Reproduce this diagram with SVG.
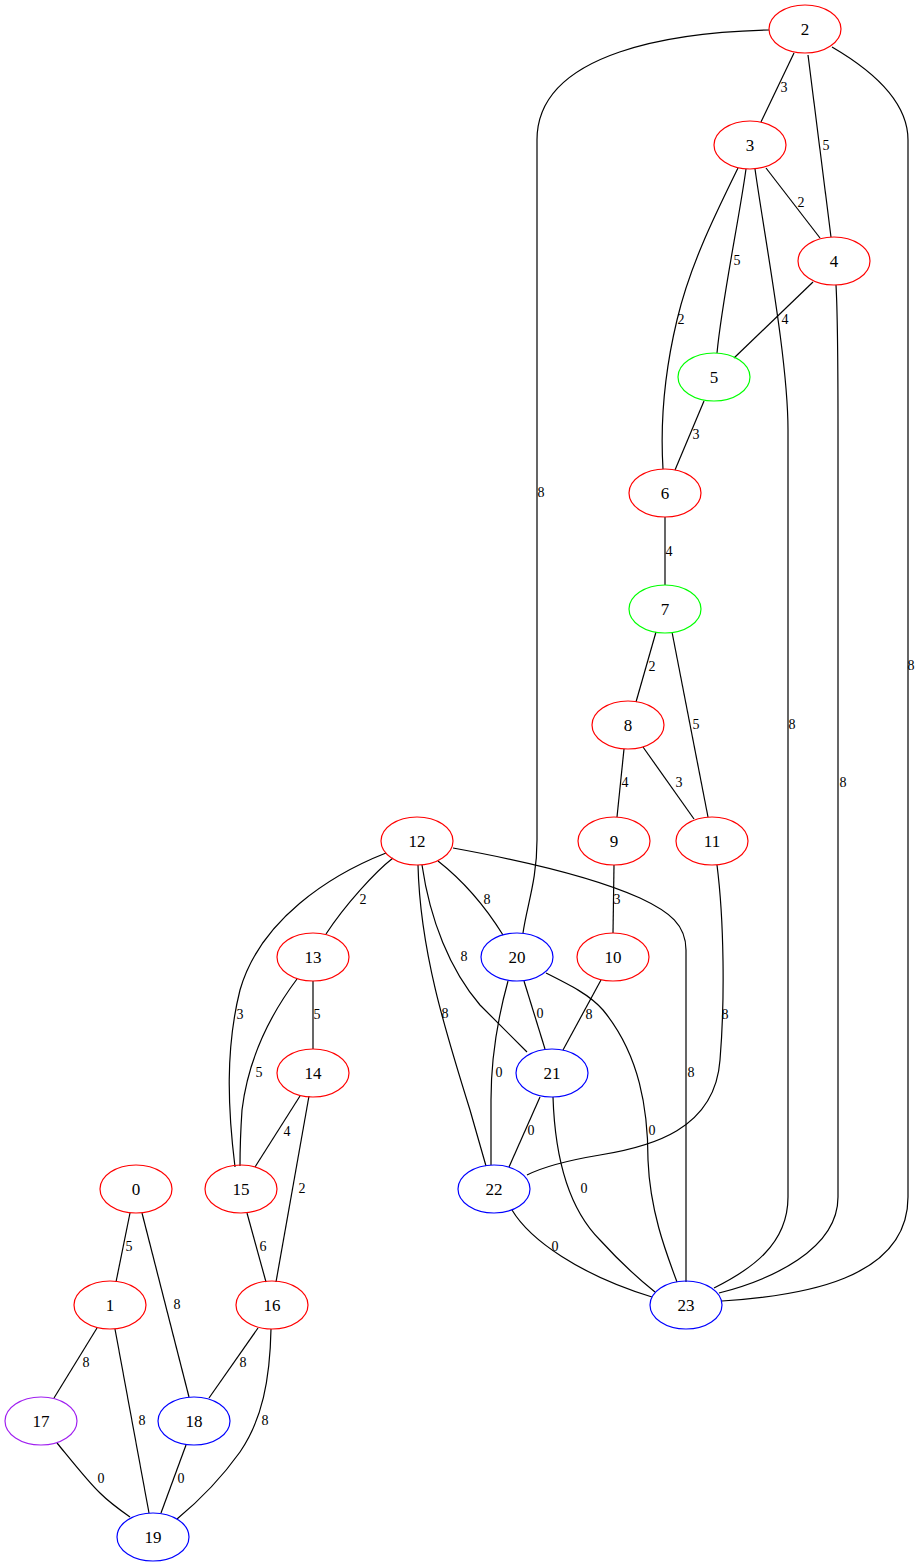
<svg xmlns="http://www.w3.org/2000/svg" width="923" height="1567" viewBox="0 0 923 1567">
<style>
  .bg { fill: #ffffff; }
  .node ellipse { fill: none; stroke-width: 1.2; }
  .node text { font-family: "Liberation Serif", "Times New Roman", serif; font-size: 17px; text-anchor: middle; fill: #000; }
  .red ellipse { stroke: #ff0000; }
  .green ellipse { stroke: #00ff00; }
  .blue ellipse { stroke: #0000ff; }
  .purple ellipse { stroke: #a020f0; }
  #edges path { fill: none; stroke: #000; stroke-width: 1.2; }
  #edges text { font-family: "Liberation Serif", "Times New Roman", serif; font-size: 14px; text-anchor: middle; fill: #000; }
</style>
<rect class="bg" x="0" y="0" width="923" height="1567"/>

<g id="edges">
  <!-- 2 -->
  <path d="M794,53 L761,122"/><text x="784" y="92">3</text>
  <path d="M808,55 L831,237"/><text x="826" y="150">5</text>
  <path d="M769,30 C680,32 537,50 537,140 L537,840 C537,880 527,905 523,933"/><text x="541" y="497">8</text>
  <path d="M832,47 C880,75 908,105 908,140 L908,1197 C908,1280 800,1296 722,1301"/><text x="911" y="670">8</text>
  <!-- 3 -->
  <path d="M766,168 L820,238"/><text x="801" y="207">2</text>
  <path d="M746,169 C739,220 722,300 717,353"/><text x="737" y="265">5</text>
  <path d="M738,168 C715,215 690,265 677,320 C665,370 660,420 663,469"/><text x="681" y="324">2</text>
  <path d="M755,169 C765,240 788,360 788,430 L788,1197 C788,1245 750,1270 714,1288"/><text x="792" y="729">8</text>
  <!-- 4 -->
  <path d="M813,282 L734,358"/><text x="785" y="324">4</text>
  <path d="M836,285 C838,320 838,380 838,430 L838,1197 C838,1250 770,1280 719,1293"/><text x="843" y="787">8</text>
  <!-- 5, 6, 7 -->
  <path d="M704,401 L675,470"/><text x="696" y="439">3</text>
  <path d="M665,517 L665,585"/><text x="669" y="556">4</text>
  <path d="M656,632 L636,702"/><text x="652" y="671">2</text>
  <path d="M672,632 L708,817"/><text x="696" y="729">5</text>
  <!-- 8, 9, 10, 11 -->
  <path d="M624,749 L617,817"/><text x="625" y="787">4</text>
  <path d="M643,747 L694,819"/><text x="679" y="787">3</text>
  <path d="M614,865 L613,933"/><text x="617" y="904">3</text>
  <path d="M601,980 L563,1050"/><text x="589" y="1019">8</text>
  <path d="M717,865 C724,920 725,1000 720,1060 C715,1130 650,1147 600,1155 C570,1160 545,1166 527,1175"/><text x="725" y="1019">8</text>
  <!-- 12 -->
  <path d="M393,858 C375,872 345,905 326,934"/><text x="363" y="904">2</text>
  <path d="M386,853 C330,875 260,920 240,990 C225,1050 228,1110 235,1167"/><text x="240" y="1019">3</text>
  <path d="M438,861 Q475,890 503,935"/><text x="487" y="904">8</text>
  <path d="M422,865 C430,920 450,970 480,1005 C500,1025 515,1040 527,1052"/><text x="464" y="961">8</text>
  <path d="M418,865 C420,950 445,1030 470,1110 L486,1166"/><text x="445" y="1018">8</text>
  <path d="M453,848 C530,862 600,880 640,898 C670,912 686,925 686,950 L686,1282"/><text x="691" y="1077">8</text>
  <!-- 13, 14, 15 -->
  <path d="M313,981 L313,1049"/><text x="317" y="1019">5</text>
  <path d="M297,979 C270,1015 248,1060 242,1110 C240,1140 240,1150 240,1166"/><text x="259" y="1077">5</text>
  <path d="M300,1096 L255,1167"/><text x="287" y="1136">4</text>
  <path d="M309,1096 L276,1282"/><text x="302" y="1193">2</text>
  <path d="M247,1213 L266,1282"/><text x="263" y="1251">6</text>
  <!-- 20, 21, 22 -->
  <path d="M524,981 L545,1049"/><text x="540" y="1018">0</text>
  <path d="M508,981 C500,1010 491,1050 491,1100 L491,1165"/><text x="499" y="1077">0</text>
  <path d="M546,973 C570,985 590,995 603,1010 C640,1055 648,1110 648,1160 C650,1210 665,1250 677,1282"/><text x="652" y="1135">0</text>
  <path d="M540,1097 L509,1167"/><text x="531" y="1135">0</text>
  <path d="M553,1097 C555,1160 570,1210 600,1240 C620,1262 640,1280 655,1292"/><text x="584" y="1193">0</text>
  <path d="M512,1210 C530,1240 580,1275 652,1297"/><text x="555" y="1251">0</text>
  <!-- 0, 1, 16, 17, 18 -->
  <path d="M130,1213 L116,1282"/><text x="129" y="1251">5</text>
  <path d="M142,1213 L189,1397"/><text x="177" y="1309">8</text>
  <path d="M97,1328 L54,1398"/><text x="86" y="1367">8</text>
  <path d="M115,1329 L149,1513"/><text x="142" y="1425">8</text>
  <path d="M258,1328 L209,1398"/><text x="243" y="1367">8</text>
  <path d="M271,1329 C270,1380 262,1420 240,1452 C220,1480 200,1500 177,1519"/><text x="265" y="1425">8</text>
  <path d="M57,1443 C75,1465 90,1484 100,1493 C110,1503 120,1510 130,1517"/><text x="101" y="1483">0</text>
  <path d="M186,1445 L161,1513"/><text x="181" y="1483">0</text>
</g>

<g id="node0" class="node red"><ellipse cx="136" cy="1189" rx="36" ry="24"/><text x="136" y="1195">0</text></g>
<g id="node1" class="node red"><ellipse cx="110" cy="1305" rx="36" ry="24"/><text x="110" y="1311">1</text></g>
<g id="node2" class="node red"><ellipse cx="805" cy="29" rx="36" ry="24"/><text x="805" y="35">2</text></g>
<g id="node3" class="node red"><ellipse cx="750" cy="145" rx="36" ry="24"/><text x="750" y="151">3</text></g>
<g id="node4" class="node red"><ellipse cx="834" cy="261" rx="36" ry="24"/><text x="834" y="267">4</text></g>
<g id="node5" class="node green"><ellipse cx="714" cy="377" rx="36" ry="24"/><text x="714" y="383">5</text></g>
<g id="node6" class="node red"><ellipse cx="665" cy="493" rx="36" ry="24"/><text x="665" y="499">6</text></g>
<g id="node7" class="node green"><ellipse cx="665" cy="609" rx="36" ry="24"/><text x="665" y="615">7</text></g>
<g id="node8" class="node red"><ellipse cx="628" cy="725" rx="36" ry="24"/><text x="628" y="731">8</text></g>
<g id="node9" class="node red"><ellipse cx="614" cy="841" rx="36" ry="24"/><text x="614" y="847">9</text></g>
<g id="node10" class="node red"><ellipse cx="613" cy="957" rx="36" ry="24"/><text x="613" y="963">10</text></g>
<g id="node11" class="node red"><ellipse cx="712" cy="841" rx="36" ry="24"/><text x="712" y="847">11</text></g>
<g id="node12" class="node red"><ellipse cx="417" cy="841" rx="36" ry="24"/><text x="417" y="847">12</text></g>
<g id="node13" class="node red"><ellipse cx="313" cy="957" rx="36" ry="24"/><text x="313" y="963">13</text></g>
<g id="node14" class="node red"><ellipse cx="313" cy="1073" rx="36" ry="24"/><text x="313" y="1079">14</text></g>
<g id="node15" class="node red"><ellipse cx="241" cy="1189" rx="36" ry="24"/><text x="241" y="1195">15</text></g>
<g id="node16" class="node red"><ellipse cx="272" cy="1305" rx="36" ry="24"/><text x="272" y="1311">16</text></g>
<g id="node17" class="node purple"><ellipse cx="41" cy="1421" rx="36" ry="24"/><text x="41" y="1427">17</text></g>
<g id="node18" class="node blue"><ellipse cx="194" cy="1421" rx="36" ry="24"/><text x="194" y="1427">18</text></g>
<g id="node19" class="node blue"><ellipse cx="153" cy="1537" rx="36" ry="24"/><text x="153" y="1543">19</text></g>
<g id="node20" class="node blue"><ellipse cx="517" cy="957" rx="36" ry="24"/><text x="517" y="963">20</text></g>
<g id="node21" class="node blue"><ellipse cx="552" cy="1073" rx="36" ry="24"/><text x="552" y="1079">21</text></g>
<g id="node22" class="node blue"><ellipse cx="494" cy="1189" rx="36" ry="24"/><text x="494" y="1195">22</text></g>
<g id="node23" class="node blue"><ellipse cx="686" cy="1305" rx="36" ry="24"/><text x="686" y="1311">23</text></g>
</svg>
